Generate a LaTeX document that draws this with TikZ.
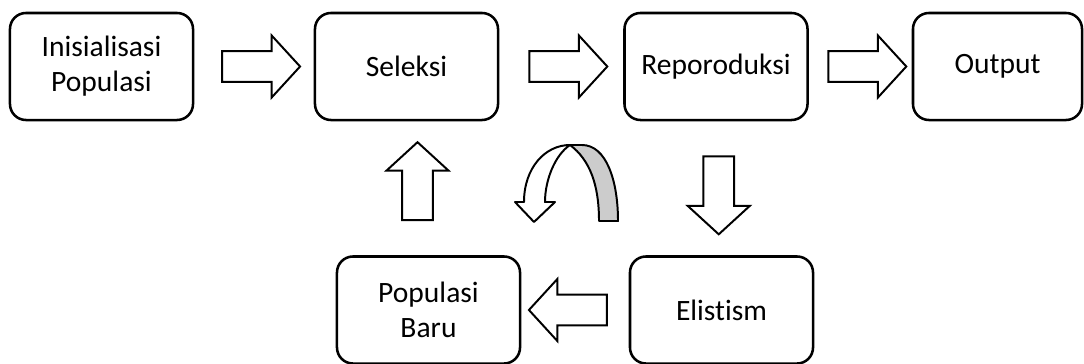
\documentclass[tikz,border=0pt]{standalone}
\usepackage{fontspec}
\setmainfont{Carlito}[Ligatures=NoCommon]
\usetikzlibrary{shapes,arrows,positioning,calc}
\tikzstyle{every picture}=[x=0.025cm, y=-0.025cm]
\tikzstyle{box}=[draw, line width=1.8pt, rounded corners=0.4cm, minimum width=4.575cm,%
	minimum height=2.675cm, align=center, font=\fontsize{21}{25}\selectfont]
\tikzstyle{blockarrow}=[draw, line width=1.4pt, single arrow, single arrow head extend=0.39cm,%
	single arrow tip angle=95, inner sep=0.36cm, minimum height=1.95cm, minimum width=1.5cm]
\begin{document}
\begin{tikzpicture}
	\useasboundingbox (0,0) rectangle (1084,363);
	\node[box] (init) at (101.5,66.5) {Inisialisasi\\Populasi};
	\node[box] (sel) at (406.5,66.5) {Seleksi};
	\node[box] (repro) at (716,66.5) {Reporoduksi};
	\node[box, minimum width=4.225cm] (out) at (997.5,66.5) {Output};
	\node[box] (baru) at (428.5,310) {Populasi\\Baru};
	\node[box] (elit) at (721.5,310) {Elistism};
	% panah blok
	\node[blockarrow] (a1) at ($(init.east)!0.5!(sel.west)$) {};
	\node[blockarrow] (a2) at ($(sel.east)!0.5!(repro.west)$) {};
	\node[blockarrow] (a3) at ($(repro.east)!0.5!(out.west)$) {};
	\node[blockarrow, rotate=-90] (a4) at ($(repro.south)!0.5!(elit.north)$) {};
	\node[blockarrow, rotate=180] (a5) at ($(elit.west)!0.5!(baru.east)$) {};
	\node[blockarrow, rotate=90] (a6) at ($(baru.north)!0.5!(sel.south)$) {};
	% panah lengkung
	\draw[line width=1.4pt, fill=black!20, line join=round] (570,145)
		.. controls (590,160) and (599,185) .. (599,221) -- (618,221)
		.. controls (618,180) and (606,145) .. (582,145) -- cycle;
	\draw[line width=1.4pt, fill=white, line join=round] (570,145)
		.. controls (555,155) and (545,180) .. (545,202) -- (555,202) -- (534,222)
		-- (515,202) -- (524,202) .. controls (524,168) and (545,145) .. cycle;
\end{tikzpicture}
\end{document}
